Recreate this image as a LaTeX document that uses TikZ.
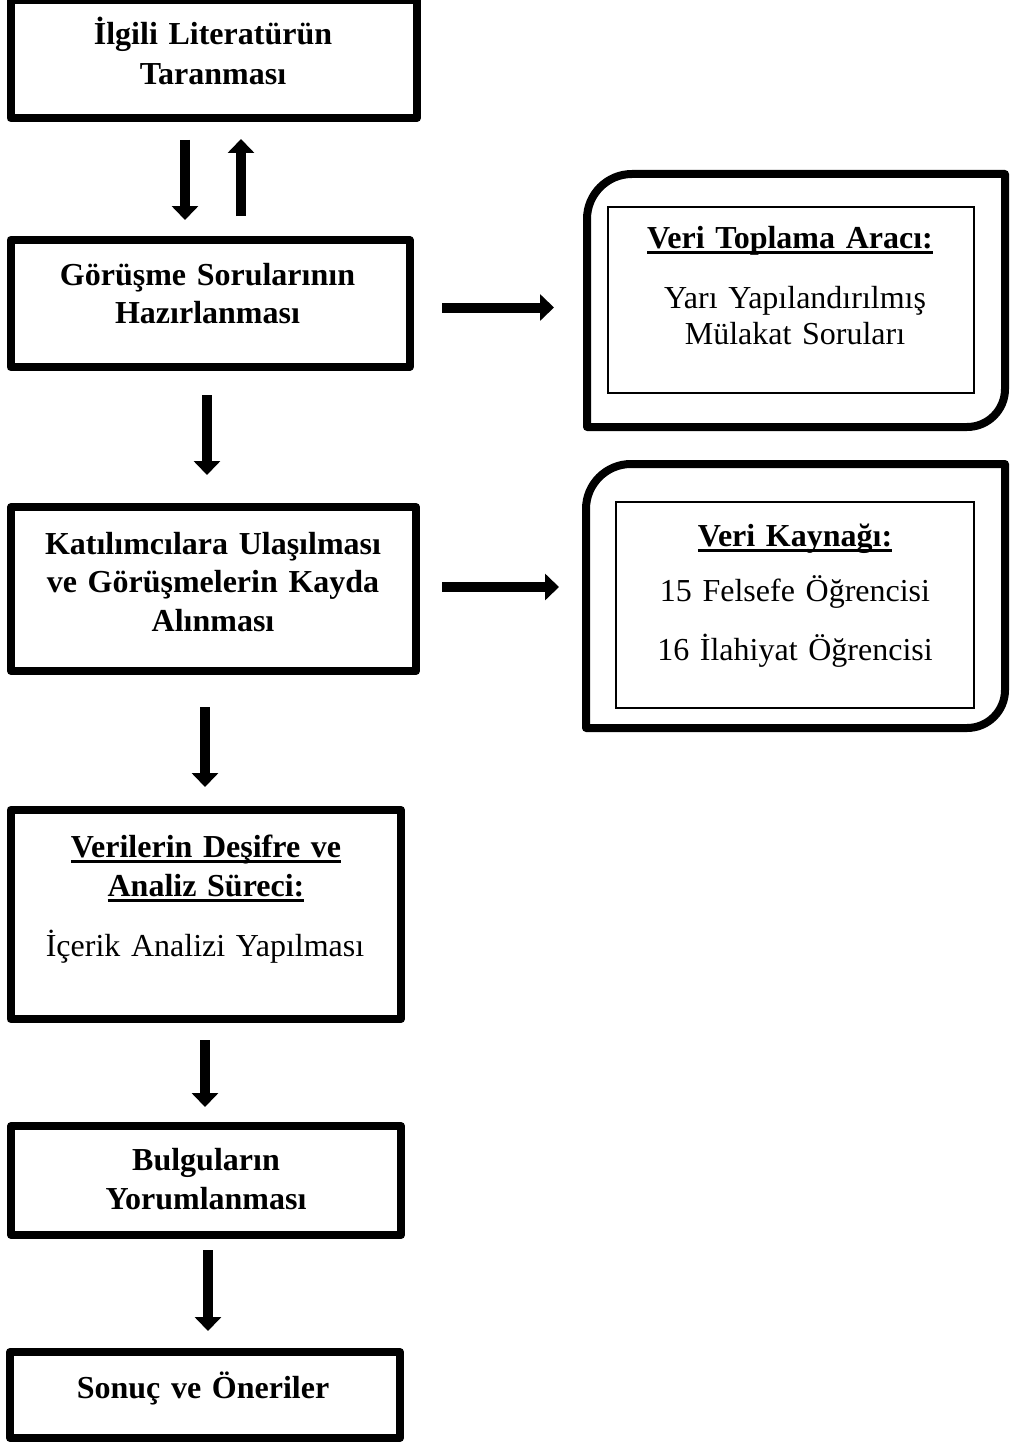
\documentclass[tikz,border=0pt]{standalone}
\usepackage{fontspec}
\setmainfont{Liberation Serif}
\usetikzlibrary{arrows.meta}
\newcommand\uln[2][-6pt]{\leavevmode\setbox0\hbox{#2}\rlap{\rule[#1]{\wd0}{3pt}}\box0}
\begin{document}
\begin{tikzpicture}[x=1pt,y=1pt,
  box/.style={draw,line width=8pt,line join=round,rectangle,inner sep=0pt},
  inbox/.style={draw,line width=1.3pt,rectangle,inner sep=0pt},
  frame/.style={rectangle,inner sep=0pt,outer sep=0pt},
  outline/.style={line width=8pt,line join=round},
  bt/.style={font=\bfseries\fontsize{32}{#1}\selectfont,text width=400pt,align=center,anchor=base,inner sep=0pt},
  rt/.style={font=\fontsize{32}{#1}\selectfont,text width=400pt,align=center,anchor=base,inner sep=0pt},
  arr/.style={line width=10pt,-{Triangle[width=26pt,length=14pt]}}]
\useasboundingbox (0,0) rectangle (1009,-1442);
% main boxes
\node[box,minimum width=406.5pt,minimum height=118pt] (B1) at (213.75,-59) {};
\node[box,minimum width=399pt,minimum height=127pt] (B2) at (210,-303.5) {};
\node[box,minimum width=405pt,minimum height=164pt] (B3) at (213.5,-589) {};
\node[box,minimum width=390.5pt,minimum height=209pt] (B4) at (205.75,-914.5) {};
\node[box,minimum width=390pt,minimum height=109pt] (B5) at (206,-1180.5) {};
\node[box,minimum width=390pt,minimum height=86pt] (B6) at (205,-1395) {};
% right frames
\node[frame,minimum width=418pt,minimum height=253pt] (R1) at (796,-300.5) {};
\node[frame,minimum width=419pt,minimum height=264pt] (R2) at (795.5,-596) {};
\draw[outline] (R1.south west) -- ([yshift=-45pt]R1.north west) arc[start angle=180,end angle=90,radius=45pt] -- (R1.north east) -- ([yshift=38pt]R1.south east) arc[start angle=0,end angle=-90,radius=38pt] -- cycle;
\draw[outline] (R2.south west) -- ([yshift=-45pt]R2.north west) arc[start angle=180,end angle=90,radius=45pt] -- (R2.north east) -- ([yshift=38pt]R2.south east) arc[start angle=0,end angle=-90,radius=38pt] -- cycle;
\node[inbox,minimum width=366pt,minimum height=186pt] (I1) at (791,-300) {};
\node[inbox,minimum width=358pt,minimum height=206pt] (I2) at (795,-605) {};
% texts
\node[bt=40] (T1) at (213,-45) {İlgili Literatürün\\Taranması};
\node[bt=38] (T2) at (207.5,-285) {Görüşme Sorularının\\Hazırlanması};
\node[bt=38.5] (T3) at (213,-554) {Katılımcılara Ulaşılması\\ve Görüşmelerin Kayda\\Alınması};
\node[bt=39] (T4) at (206,-857) {\uln{Verilerin Deşifre ve}\\\uln{Analiz Süreci:}};
\node[rt=39] (T4b) at (205,-956) {İçerik Analizi Yapılması};
\node[bt=39] (T5) at (206,-1170) {Bulguların\\Yorumlanması};
\node[bt=40] (T6) at (203,-1398) {Sonuç ve Öneriler};
\node[bt=39] (H1) at (790,-248) {\uln{Veri Toplama Aracı:}};
\node[rt=36] (L1) at (795,-308) {Yarı Yapılandırılmış\\Mülakat Soruları};
\node[bt=39] (H2) at (795,-546) {\uln{Veri Kaynağı:}};
\node[rt=59] (L2) at (795,-601) {15 Felsefe Öğrencisi\\16 İlahiyat Öğrencisi};
% arrows
\draw[arr,shorten <=18pt,shorten >=16pt] (B1.south -| 185,0) -- (B2.north -| 185,0);
\draw[arr,shorten <=20pt,shorten >=17pt] (B2.north -| 241,0) -- (B1.south -| 241,0);
\draw[arr,shorten <=24pt,shorten >=28pt] (B2.south -| 207,0) -- (B3.north -| 207,0);
\draw[arr,shorten <=32pt,shorten >=19pt] (B3.south -| 205,0) -- (B4.north -| 205,0);
\draw[arr,shorten <=17pt,shorten >=15pt] (B4.south -| 205,0) -- (B5.north -| 205,0);
\draw[arr,shorten <=11pt,shorten >=17pt] (B5.south -| 208,0) -- (B6.north -| 208,0);
\draw[arr,shorten <=28.5pt,shorten >=33pt] (B2.east |- 0,-307.5) -- (R1.west |- 0,-307.5);
\draw[arr,shorten <=22pt,shorten >=27pt] (B3.east |- 0,-587) -- (R2.west |- 0,-587);
\end{tikzpicture}
\end{document}
